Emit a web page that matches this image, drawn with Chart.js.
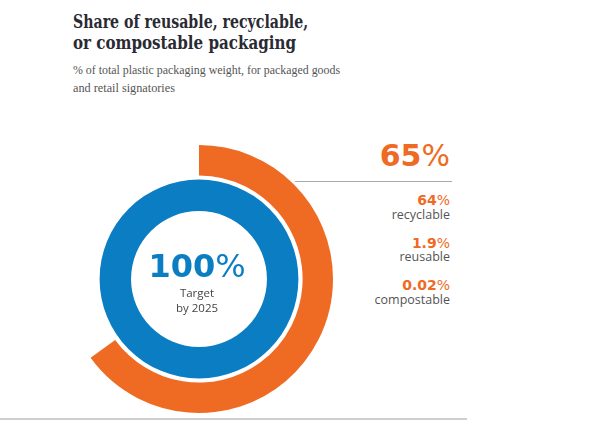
<!DOCTYPE html>
<html>
<head>
<meta charset="utf-8">
<script src="https://cdn.jsdelivr.net/npm/chart.js@4.4.1/dist/chart.umd.min.js"></script>
<style>
  html, body { margin: 0; padding: 0; background: #fff; }
  #wrap { position: relative; width: 613px; height: 423px; overflow: hidden; }
  .abs { position: absolute; white-space: nowrap; }
  .title { font-family: "DejaVu Serif", serif; font-weight: bold; font-size: 18px; line-height: 21px; color: #2a2a33; left: 73px; transform-origin: left center; }
  .sub { font-family: "Liberation Serif", serif; font-size: 12.5px; line-height: 18px; color: #555; left: 73px; transform-origin: left center; }
  .num { font-family: "DejaVu Sans", sans-serif; font-weight: bold; line-height: 1; }
  .num span { font-weight: normal; }
  .lbl { font-family: "Open Sans", sans-serif; font-size: 12.5px; line-height: 1; color: #555; }
  #ring { position: absolute; left: 59px; top: 139px; }
</style>
</head>
<body>
<div id="wrap">
  <div class="abs title" style="top:11px" data-fit="235">Share of reusable, recyclable,</div>
  <div class="abs title" style="top:32px" data-fit="223">or compostable packaging</div>
  <div class="abs sub" style="top:61px" data-fit="267">% of total plastic packaging weight, for packaged goods</div>
  <div class="abs sub" style="top:79px" data-fit="102">and retail signatories</div>

  <div class="abs" style="left:0; top:418px; width:467px; height:2px; background:#cfcfcf"></div>
  <div class="abs" style="left:295px; top:181px; width:157px; height:1px; background:#a9a9a9"></div>

  <canvas id="ring" width="280" height="280"></canvas>
  <div id="center"></div>
  <div id="side"></div>
</div>

<script>
// headline figures
const achieved = 65;       // % reusable, recyclable or compostable
const target = 100;        // % target by 2025
const targetLabel = ['Target', 'by 2025'];

// breakdown listed on the right
const breakdownLabels = ['recyclable', 'reusable', 'compostable'];
const breakdownValues = ['64', '1.9', '0.02'];

const ORANGE = '#ef6a23';
const BLUE = '#0b7dc3';

new Chart(document.getElementById('ring'), {
  type: 'doughnut',
  data: {
    datasets: [
      { data: [achieved, target - achieved], backgroundColor: [ORANGE, 'rgba(0,0,0,0)'], borderWidth: 0, weight: 29 },
      { data: [1], backgroundColor: 'rgba(0,0,0,0)', borderWidth: 0, weight: 4 },
      { data: [target], backgroundColor: BLUE, borderWidth: 0, weight: 30 }
    ]
  },
  options: {
    responsive: false,
    animation: false,
    events: [],
    radius: 134,
    cutout: 71,
    plugins: { legend: { display: false }, tooltip: { enabled: false } }
  }
});

// text in the middle of the ring
const center = document.getElementById('center');
center.innerHTML =
  `<div class="abs num" style="left:97px;width:200px;text-align:center;top:250px;font-size:32px;color:${BLUE}">${target}<span>%</span></div>` +
  targetLabel.map((t, i) =>
    `<div class="abs lbl" style="left:97px;width:200px;text-align:center;top:${287 + i * 15}px;font-size:11.5px;color:#444">${t}</div>`
  ).join('');

// right-hand column
const side = document.getElementById('side');
let html = `<div class="abs num" style="right:163px;top:141px;font-size:30px;color:${ORANGE}">${achieved}<span>%</span></div>`;
breakdownLabels.forEach((lab, i) => {
  const base = 205 + i * 42.5;
  html += `<div class="abs num" style="right:163px;top:${base - 11.8}px;font-size:14px;color:${ORANGE}">${breakdownValues[i]}<span>%</span></div>`;
  html += `<div class="abs lbl" style="right:163px;top:${base + 15 - 11.1}px">${lab}</div>`;
});
side.innerHTML = html;

// squeeze the heading lines to the widths in the original
document.querySelectorAll('[data-fit]').forEach(el => {
  const w = el.getBoundingClientRect().width;
  const want = +el.dataset.fit;
  el.style.transform = `scaleX(${(want / w).toFixed(3)})`;
});
</script>
</body>
</html>
